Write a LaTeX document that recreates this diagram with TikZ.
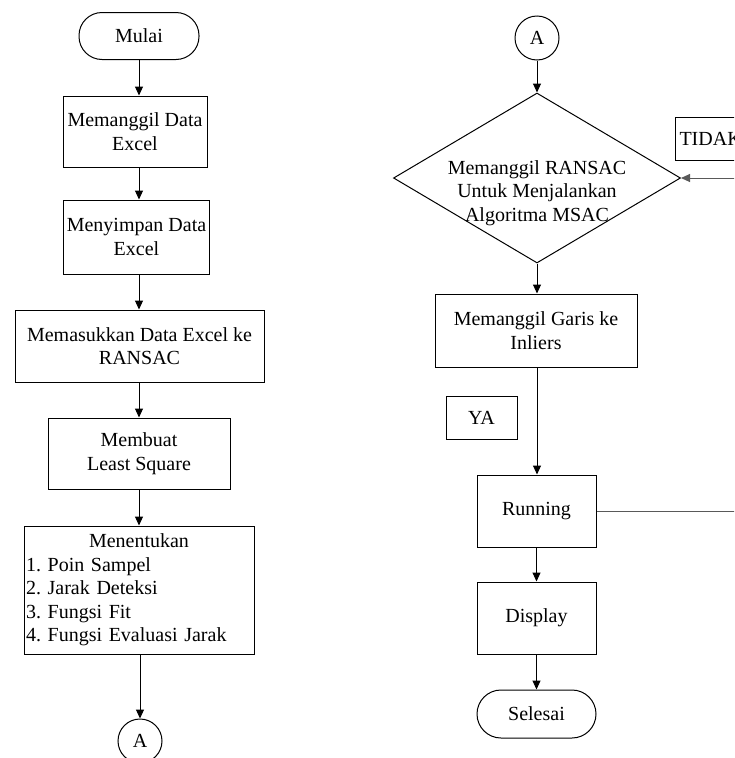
\documentclass[tikz,border=0pt]{standalone}
\usepackage{fontspec}
\setmainfont{Liberation Serif}
\usetikzlibrary{arrows.meta,shapes.geometric}
\frenchspacing
\begin{document}
\begin{tikzpicture}[x=1pt,y=-1pt,
  every node/.style={font=\fontsize{20}{23.5}\selectfont, text=black},
  box/.style={draw, line width=1pt, align=center, inner sep=2pt},
  term/.style={box, rounded corners=23pt},
  conn/.style={draw, line width=1pt, align=center, circle, inner sep=0pt, minimum size=44pt},
  arr/.style={line width=1pt, -{Triangle[length=9pt,width=8pt]}},
  loopline/.style={line width=1pt, draw=black!65}]
\useasboundingbox (0,0) rectangle (734,758);
\clip (0,0) rectangle (734,758);
% left column
\node[term, minimum width=120pt, minimum height=47pt] (mulai) at (139,36) {Mulai};
\node[box, minimum width=144pt, minimum height=71pt] (b1) at (135,131.5) {Memanggil Data\\Excel};
\node[box, minimum width=146pt, minimum height=74pt] (b2) at (136.5,237) {Menyimpan Data\\Excel};
\node[box, minimum width=249pt, minimum height=72pt] (b3) at (139.5,346) {Memasukkan Data Excel ke\\RANSAC};
\node[box, minimum width=182pt, minimum height=71pt] (b4) at (139,453.5) {Membuat\\Least Square};
\node[box, minimum width=230pt, minimum height=128pt, text width=226pt, align=left] (b5) at (139,590)
  {\makebox[226pt][c]{Menentukan}\\1. Poin Sampel\\2. Jarak Deteksi\\3. Fungsi Fit\\4. Fungsi Evaluasi Jarak};
\node[conn] (a1) at (140,741) {A};
\draw[arr] (mulai.south) -- (mulai.south |- b1.north);
\draw[arr] (mulai.south |- b1.south) -- (mulai.south |- b2.north);
\draw[arr] (mulai.south |- b2.south) -- (mulai.south |- b3.north);
\draw[arr] (mulai.south |- b3.south) -- (mulai.south |- b4.north);
\draw[arr] (mulai.south |- b4.south) -- (mulai.south |- b5.north);
\draw[arr] (a1.north |- b5.south) -- (a1.north);
% right column
\node[conn] (a2) at (537,38) {A};
\node[draw, line width=1pt, diamond, minimum width=287pt, minimum height=170pt, inner sep=0pt] (dec) at (537,178) {};
\node[align=center, inner sep=0pt] (dect) at (537,193) {Memanggil RANSAC\\Untuk Menjalankan\\Algoritma MSAC};
\node[box, minimum width=202pt, minimum height=73pt] (garis) at (536,330.5) {Memanggil Garis ke\\Inliers};
\node[box, minimum width=71pt, minimum height=43pt] (ya) at (481.5,417.5) {YA};
\node[box, minimum width=119pt, minimum height=72pt] (run) at (536.5,511) {Running};
\node[box, minimum width=119pt, minimum height=72pt] (disp) at (536.5,618) {Display};
\node[term, minimum width=119pt, minimum height=48pt, rounded corners=24pt] (sel) at (536.5,714) {Selesai};
\node[box, anchor=west, minimum width=70pt, minimum height=43pt, inner xsep=4pt] (tidak) at (675,138.5) {TIDAK};
\coordinate (loop) at (760,511);
\draw[arr] (a2.south) -- (dec.north);
\draw[arr] (dec.south) -- (dec.south |- garis.north);
\draw[arr] (dec.south |- garis.south) -- (dec.south |- run.north);
\draw[arr] (run.south) -- (disp.north);
\draw[arr] (disp.south) -- (sel.north);
\draw[loopline] (run.east) -- (loop);
\draw[loopline, -{Triangle[length=9pt,width=8pt]}] (loop) |- (dec.east);
\end{tikzpicture}
\end{document}
